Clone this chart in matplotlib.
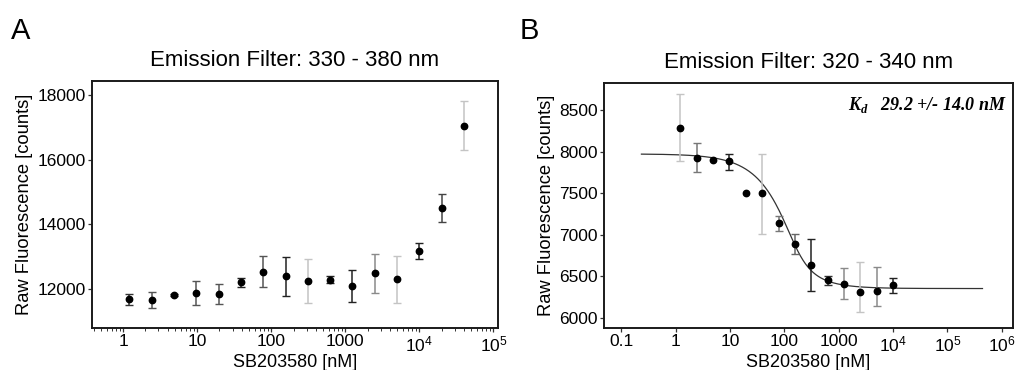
import numpy as np
import matplotlib
matplotlib.use('Agg')
import matplotlib.pyplot as plt
from matplotlib.ticker import FixedLocator, FixedFormatter, LogLocator, NullFormatter

plt.rcParams['font.family'] = ['Liberation Sans', 'DejaVu Sans']
plt.rcParams['mathtext.fontset'] = 'custom'
plt.rcParams['mathtext.rm'] = 'Liberation Sans'
plt.rcParams['mathtext.it'] = 'Liberation Sans:italic'
plt.rcParams['mathtext.bfit'] = 'Liberation Serif:italic:bold'

# panel A data
conc_a = [1.22, 2.44, 4.88, 9.77, 19.5, 39.1, 78.1, 156, 312, 625, 1250, 2500, 5000, 10000, 20000, 40000]
fluo_a = [11680, 11660, 11804, 11876, 11845, 12207, 12537, 12393, 12248, 12289, 12093, 12506, 12310, 13178, 14500, 17052]
err_lo_a = [165, 250, 30, 372, 320, 147, 475, 600, 672, 114, 486, 620, 744, 238, 413, 744]
err_hi_a = [175, 247, 30, 382, 310, 133, 475, 588, 692, 124, 506, 579, 723, 237, 434, 754]
ecol_a = ['#333333', '#555555', '#222222', '#555555', '#555555', '#222222', '#555555', '#222222',
          '#c4c4c4', '#222222', '#222222', '#8a8a8a', '#c4c4c4', '#222222', '#444444', '#c4c4c4']
xticks_a = [1, 10, 100, 1000, 1e4, 1e5]
xlabels_a = ['1', '10', '100', '1000', '$10^4$', '$10^5$']
yticks_a = [12000, 14000, 16000, 18000]

# panel B data
conc_b = [1.22, 2.44, 4.88, 9.77, 19.5, 39.1, 78.1, 156, 312, 625, 1250, 2500, 5000, 10000]
fluo_b = [8292, 7932, 7908, 7884, 7500, 7500, 7140, 6888, 6640, 6452, 6412, 6312, 6320, 6396]
err_lo_b = [404, 172, 0, 100, 0, 492, 92, 116, 312, 56, 184, 244, 172, 96]
err_hi_b = [408, 176, 0, 92, 0, 480, 88, 128, 308, 52, 188, 368, 300, 84]
ecol_b = ['#c4c4c4', '#777777', '#222222', '#222222', '#222222', '#c4c4c4', '#777777', '#666666',
          '#222222', '#333333', '#8a8a8a', '#c4c4c4', '#8a8a8a', '#222222']
xticks_b = [0.1, 1, 10, 100, 1000, 1e4, 1e5, 1e6]
xlabels_b = ['0.1', '1', '10', '100', '1000', '$10^4$', '$10^5$', '$10^6$']
yticks_b = [6000, 6500, 7000, 7500, 8000, 8500]

# fit parameters (panel B)
kd = 29.2
target = 140.0
top_b = 7975
bottom_b = 6355
fit_range = (0.235, 4.4e5)


def style_axes(ax):
    for s in ax.spines.values():
        s.set_linewidth(1.4)
        s.set_color('#1a1a1a')
    ax.tick_params(axis='both', which='major', direction='out', length=3, width=0.9,
                   labelsize=12.5, pad=1.5, color='#333333')
    ax.tick_params(axis='x', which='minor', direction='out', length=2, width=0.7, color='#333333')
    ax.tick_params(axis='x', which='major', pad=1.5)


def draw_points(ax, x, y, lo, hi, cols):
    for xi, yi, l, h, c in zip(x, y, lo, hi, cols):
        if l > 0 or h > 0:
            ax.errorbar([xi], [yi], yerr=[[l], [h]], fmt='none', ecolor=c,
                        elinewidth=1.1, capsize=2.8, capthick=1.0, zorder=2)
        ax.plot([xi], [yi], 'o', color='black', markersize=4.6, zorder=3)


fig = plt.figure(figsize=(10.15, 3.7), dpi=100)

# panel A
ax1 = fig.add_axes([0.0906, 0.1135, 0.400, 0.667])
ax1.set_xscale('log')
draw_points(ax1, conc_a, fluo_a, err_lo_a, err_hi_a, ecol_a)
ax1.set_xlim(0.38, 1.15e5)
ax1.set_ylim(10790, 18430)
ax1.xaxis.set_major_locator(FixedLocator(xticks_a))
ax1.xaxis.set_major_formatter(FixedFormatter(xlabels_a))
ax1.xaxis.set_minor_locator(LogLocator(base=10, subs=np.arange(2, 10)))
ax1.xaxis.set_minor_formatter(NullFormatter())
ax1.set_yticks(yticks_a)
style_axes(ax1)
ax1.set_title('Emission Filter: 330 - 380 nm', fontsize=16, pad=11)
ax1.set_xlabel('SB203580 [nM]', fontsize=13, labelpad=0)
ax1.set_ylabel('Raw Fluorescence [counts]', fontsize=13.2, labelpad=3)
fig.text(0.011, 0.895, 'A', fontsize=21)

# panel B
ax2 = fig.add_axes([0.595, 0.1135, 0.403, 0.662])
ax2.set_xscale('log')
xf = np.logspace(np.log10(fit_range[0]), np.log10(fit_range[1]), 400)
s = target + xf + kd
frac = (s - np.sqrt(s ** 2 - 4 * target * xf)) / (2 * target)
ax2.plot(xf, top_b - (top_b - bottom_b) * frac, color='#333333', lw=0.9, zorder=1)
draw_points(ax2, conc_b, fluo_b, err_lo_b, err_hi_b, ecol_b)
ax2.set_xlim(0.048, 1.6e6)
ax2.set_ylim(5880, 8828)
ax2.xaxis.set_major_locator(FixedLocator(xticks_b))
ax2.xaxis.set_major_formatter(FixedFormatter(xlabels_b))
ax2.xaxis.set_minor_locator(LogLocator(base=10, subs=np.arange(2, 10)))
ax2.xaxis.set_minor_formatter(NullFormatter())
ax2.set_yticks(yticks_b)
style_axes(ax2)
ax2.set_title('Emission Filter: 320 - 340 nm', fontsize=16, pad=11)
ax2.set_xlabel('SB203580 [nM]', fontsize=13, labelpad=0)
ax2.set_ylabel('Raw Fluorescence [counts]', fontsize=13.2, labelpad=3)
ax2.text(0.985, 0.91, r'$\mathbfit{K}_{\mathbfit{d}}$   29.2 +/- 14.0 nM', transform=ax2.transAxes,
         ha='right', va='center', fontsize=13, family='Liberation Serif',
         fontweight='bold', style='italic')
fig.text(0.512, 0.895, 'B', fontsize=21)

plt.savefig('out.png', dpi=100)
